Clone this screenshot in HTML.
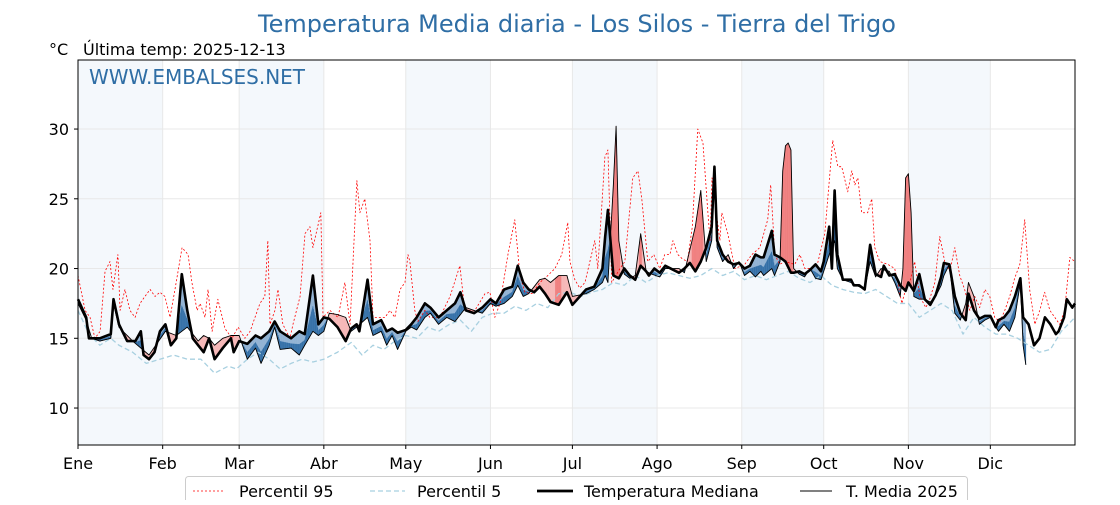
<!DOCTYPE html>
<html><head><meta charset="utf-8">
<style>
body{margin:0;background:#fff;font-family:"Liberation Sans","DejaVu Sans",sans-serif;}
svg text{font-family:"DejaVu Sans","Liberation Sans",sans-serif;}
</style></head>
<body>
<svg id="chart" width="1120" height="500" xmlns="http://www.w3.org/2000/svg">
<text x="577" y="32" text-anchor="middle" font-size="24" fill="#2f6ea5">Temperatura Media diaria - Los Silos - Tierra del Trigo</text>
<text x="49" y="55" font-size="16" fill="#000">°C</text>
<text x="83" y="55" font-size="16" fill="#000">Última temp: 2025-12-13</text>
<g id="bands"></g><g id="grid"></g><g id="fills"></g><g id="lines"></g>
<text x="89" y="84" font-size="20" fill="#2f6ea5">WWW.EMBALSES.NET</text>
<rect x="78" y="60" width="997" height="385" fill="none" stroke="#000" stroke-width="1"/>
<g id="axes"></g>
<g>
<rect x="185.5" y="476.5" width="782" height="30" rx="3" fill="#fff" stroke="#ccc"/>
<line x1="193" y1="491" x2="225" y2="491" stroke="red" stroke-width="0.8" stroke-dasharray="2,2"/>
<text x="239" y="497" font-size="16">Percentil 95</text>
<line x1="370" y1="491" x2="405" y2="491" stroke="#a8d0e0" stroke-width="1.2" stroke-dasharray="5,3"/>
<text x="417" y="497" font-size="16">Percentil 5</text>
<line x1="537" y1="491" x2="573" y2="491" stroke="#000" stroke-width="2.8"/>
<text x="584" y="497" font-size="16">Temperatura Mediana</text>
<line x1="800" y1="491" x2="832" y2="491" stroke="#000" stroke-width="1"/>
<text x="846" y="497" font-size="16">T. Media 2025</text>
</g>
</svg>
<script>
const months=["Ene","Feb","Mar","Abr","May","Jun","Jul","Ago","Sep","Oct","Nov","Dic"];
const monthStart=[0,31,59,90,120,151,181,212,243,273,304,334];
const yTicks=[10,15,20,25,30];
const medDays=[0,3,4,8,12,13,15,18,21,23,24,26,28,30,32,34,36,38,40,42,44,46,48,50,53,56,57,59,62,65,67,70,72,74,78,81,83,86,88,90,92,95,98,100,102,103,106,108,111,113,115,117,120,122,124,127,129,132,135,138,140,142,145,148,151,153,156,159,161,163,165,167,169,171,173,176,179,181,186,189,192,193,194,196,198,200,202,204,206,208,209,211,213,215,217,220,222,224,226,228,230,232,233,234,236,238,240,242,244,246,248,250,251,254,255,257,259,261,262,264,266,268,270,272,273,275,276,277,278,280,283,284,286,288,290,292,294,295,297,299,301,303,304,306,308,310,312,314,316,317,319,321,323,325,326,328,330,332,334,336,337,339,341,343,345,346,348,350,352,354,356,358,359,361,362,364,365];
const medVals=[17.8,16.5,15.0,15.0,15.3,17.8,16,14.8,14.8,15.5,13.8,13.5,14,15.5,16,14.5,15,19.6,17,15,14.5,14,15,13.5,14.3,15,14,14.8,14.6,15.2,15,15.5,16.2,15.5,15,15.5,15.3,19.5,16,16.5,16.4,15.8,14.8,15.7,16,15.5,19.2,16,16.3,15.5,15.7,15.4,15.6,16,16.5,17.5,17.2,16.5,17,17.5,18.3,17,16.8,17.2,17.8,17.5,18.5,18.7,20.2,19,18.5,18.3,18.7,18.2,17.6,17.4,18.3,17.4,18.5,18.7,20,22.3,24.2,19.5,19.3,20,19.5,19.2,20.2,19.8,19.5,20,19.7,20.2,20,19.7,20,20.4,19.8,20.5,21.5,23,27.3,22,21,20.5,20.3,20.4,20,20.2,21,20.8,20.8,22.7,21,20.8,20.5,19.7,19.7,19.8,19.6,19.9,20.3,19.8,20.5,23,20,25.6,21,19.2,19.2,18.8,18.8,18.5,21.7,19.6,19.4,20.2,19.5,19.6,18.8,18.4,19,18.4,19.6,17.8,17.4,18.1,19.4,20.4,20.3,18,16.8,16.3,18.2,17,16.4,16.6,16.6,15.8,16.3,16.5,17,18,19.3,16.5,16,14.5,15,16.5,16,15.3,15.5,16.5,17.8,17.2,17.5];
const t25Days=[0,3,5,8,12,13,15,20,26,32,36,38,40,44,46,48,50,53,56,59,62,65,67,70,72,74,78,81,83,86,88,90,92,95,98,100,102,106,108,111,113,115,117,120,122,124,127,129,132,135,138,142,145,148,151,153,156,159,161,163,165,167,169,171,173,176,179,181,186,189,192,193,194,196,197,198,200,202,204,206,208,210,213,215,217,220,222,226,228,230,232,233,234,236,238,240,242,244,246,248,250,251,254,255,257,258,259,260,261,262,264,266,268,270,272,273,275,277,278,280,283,286,288,290,292,294,295,297,299,301,302,303,304,305,306,308,310,312,314,316,317,319,321,323,325,326,328,330,332,334,336,337,339,341,343,345,346,347];
const t25Vals=[17.5,16.3,15.0,14.8,15.0,17.5,15.8,14.8,13.8,15.5,15.2,15.5,15.8,14.8,15.2,15.0,14.5,15.0,15.2,15.2,13.5,14.3,13.2,14.5,15.8,14.2,14.3,13.8,14.5,15.5,15.2,15.5,16.8,16.7,16.5,15.5,15.8,16.5,15.2,15.5,14.5,15.2,14.2,15.5,15.8,15.6,16.5,16.8,16.0,16.5,16.2,17.2,17.0,16.8,17.5,17.3,17.5,18.0,18.8,18.0,18.2,18.7,19.2,19.3,19.0,19.5,19.5,18.0,18.2,18.5,19.0,19.5,19.0,26.0,30.2,22.0,19.6,19.3,19.5,22.5,19.8,19.6,19.4,20.0,20.0,20.0,19.7,23.0,25.6,20.5,22.0,26.5,21.5,20.5,21,20.0,20.5,19.5,19.8,19.4,19.8,19.5,20.0,19.5,20.5,27.0,28.8,29.0,28.5,20.0,19.6,19.4,20.0,19.3,19.2,19.8,21.0,22.0,20.0,19.2,19.0,18.7,18.5,20.5,19.4,20.0,19.9,19.8,19.0,18.0,20.0,26.5,26.8,24.0,18.0,17.8,17.8,17.6,18.0,18.8,19.5,20.3,16.8,16.3,17.5,19.0,18.0,16.0,16.3,16.5,15.8,15.5,16.0,15.5,16.5,19.0,14.5,13.1];
const p95Days=[0,2.6,4.4,6.2,8.1,9.9,11.7,12.8,14.6,15.4,17.2,19,20.9,22.7,24.5,26.4,28.2,30,31.8,33.7,35.5,38.1,40.3,41.7,43.6,44.7,46.5,47.6,49.1,51.2,53.8,56.4,58.6,61.1,63,66.6,68.4,69.5,70.3,72.1,73.2,75,77.6,78.7,81.3,83.1,84.9,86,88.9,89.7,92.2,95.2,97.7,99.6,102.1,103.2,105,106.9,108,110.5,112.4,114.2,116,117.9,119.7,120.8,121.5,123.3,124.4,127,128.8,132.5,136.2,139.8,141.6,143.5,145.3,149,150.8,152.6,154.5,157.4,159.9,161.8,163.6,166.2,169.1,172,174.6,177.1,179.3,180.1,181.9,183.7,185.6,189.2,190.3,192.9,194,195.4,198.4,200.2,203.1,205,206.4,208.6,210.8,213,214.8,216.7,217.8,219.6,221.2,223.1,224.9,226.9,228.8,230.6,231.4,232.1,235,235.7,237.9,240.5,244.1,246.7,249.6,252.5,253.6,255.1,256.9,258.8,262.4,264.3,266.1,267.9,270.8,273.4,276.3,278.2,279.6,281.8,283.3,284.4,285.5,286.9,289.1,290.6,291.7,293.5,296.5,299,300.1,301.6,303,304.5,306.3,308.2,310.4,311.8,313.7,315.5,317.3,319.2,321,322.8,324.6,326.5,328.3,330.1,332,333.8,335.6,337.5,339.3,341.1,342.9,344.8,346.6,348.4,350.3,352.1,353.9,355.8,357.6,359.4,361.2,363.1,364.9];
const p95Vals=[19.5,17,16.5,15,15.5,19.8,20.5,18.5,21,17,18.5,17,16.5,17.5,18,18.5,18,18.3,18,16.5,18.5,21.5,21,19,17,17.5,16.5,18.5,15.5,17.8,15.7,15,15.8,15,15.5,17.5,18,22,16,17,18.5,16,15,16,18,22.5,23,21.5,24,16.5,17,16.5,19,16,26.3,24,25,22,16.5,16.5,16.5,17,16.5,18.5,19,21,20.5,17,16.2,17,16.5,16.5,18,20.2,17,17,17,18.2,18.3,16.5,17.5,21,23.5,19.5,18.3,18.2,19,19.5,20,21,23.3,20.5,19.2,18.6,19,22,20,28,28.5,19,20,20.5,26.5,27,25,20.5,21,20,21,21,22,21,20.7,20.5,23,30,29,24,22,26.5,22,24,22.5,20,20.3,21,21.5,23.5,26,21,20.3,20.5,20.3,21,20,20,20.4,22.5,29.2,27.3,27.3,25.5,27,26,26.5,24,24,25,21.5,20.5,20.3,20,19,17.5,18.5,19,20.5,18,17.2,17.8,19,22.3,20.5,19.8,21.5,19.5,18.5,17,18,17.2,18.5,18,16.5,16.2,17,18,19.3,20.3,23.5,18.5,16,17,18.3,17,16.5,16,17,20.8,20.5];
const p5Days=[0,4,8,12,15,20,25,30,35,40,45,50,55,58,62,66,70,74,78,82,86,90,95,100,104,108,112,116,120,124,128,132,136,140,144,148,152,156,160,164,168,172,176,180,184,188,192,196,200,204,208,212,216,220,224,228,232,236,240,244,248,252,256,260,264,268,272,276,280,284,288,292,296,300,304,308,312,316,320,324,328,332,336,340,344,348,352,356,360,365];
const p5Vals=[17,15.3,14.5,15,14.5,14,13.2,13.5,13.8,13.5,13.5,12.5,13,12.8,13.5,14,13.5,12.8,13.2,13.5,13.3,13.5,14,14.7,13.8,14.5,14.2,14.8,15.2,15,15.8,15.5,16,16.3,15.5,16.5,16.8,16.8,17.3,17,17.5,17.2,18.2,18.3,18,18.3,18.5,19,18.8,19.5,19,19.5,19.7,19.5,19.3,19.5,20,19.5,19.8,19.2,19.5,19.2,19.5,19.8,19.3,19,19.5,18.8,18.5,18.3,18.2,18.5,18,17.5,17.5,16.5,17,17.5,17,15.3,16.5,15.8,15.3,15.3,15,14.5,14,14.2,15.5,16.5];

const NS="http://www.w3.org/2000/svg";
const X0=78,X1=1075,Y0=60,Y1=445,YMIN=7.35,YMAX=34.95;
const xs=d=>X0+d*(X1-X0)/365;
const ys=v=>Y1-(v-YMIN)*(Y1-Y0)/(YMAX-YMIN);
function mk(parent,tag,attrs){const e=document.createElementNS(NS,tag);for(const k in attrs)e.setAttribute(k,attrs[k]);document.getElementById(parent).appendChild(e);return e;}
function interp(days,vals,d){if(d<=days[0])return vals[0];for(let i=1;i<days.length;i++){if(d<=days[i]){const t=(d-days[i-1])/(days[i]-days[i-1]);return vals[i-1]+t*(vals[i]-vals[i-1]);}}return vals[vals.length-1];}

for(let m=0;m<12;m+=2){const e=mk('bands','rect',{x:xs(monthStart[m]),y:Y0,width:xs(monthStart[m+1])-xs(monthStart[m]),height:Y1-Y0,fill:'#f4f8fc'});

}
yTicks.forEach(v=>{const g=mk('grid','line',{x1:X0,x2:X1,y1:ys(v),y2:ys(v),stroke:'#e8e8e8','stroke-width':1});


const t=mk('axes','text',{x:69,y:ys(v)+6,'text-anchor':'end','font-size':16});t.textContent=v;


mk('axes','line',{x1:X0-4,x2:X0,y1:ys(v),y2:ys(v),stroke:'#000'});});
months.forEach((m,i)=>{const x=xs(monthStart[i]);
const g=mk('grid','line',{x1:x,x2:x,y1:Y0,y2:Y1,stroke:'#e8e8e8','stroke-width':1});


mk('axes','line',{x1:x,x2:x,y1:Y1,y2:Y1+4,stroke:'#000'});
const t=mk('axes','text',{x:x,y:469,'text-anchor':'middle','font-size':16});t.textContent=m;

});
const lastDay=t25Days[t25Days.length-1];
for(let d=0;d<lastDay;d+=0.25){const d2=Math.min(d+0.25,lastDay);
const m1=interp(medDays,medVals,d),m2=interp(medDays,medVals,d2),a1=interp(t25Days,t25Vals,d),a2=interp(t25Days,t25Vals,d2);
const diff=(a1+a2-m1-m2)/2;let col,pts;
pts=[[d,m1],[d2,m2],[d2,a2],[d,a1]];
if(diff>=0){col=diff>1.8?'#f08080':'#f6b8b8';
const p=mk('fills','polygon',{points:pts.map(q=>xs(q[0])+','+ys(q[1])).join(' '),fill:col,stroke:col,'stroke-width':0.4});

}
else{
const p=mk('fills','polygon',{points:pts.map(q=>xs(q[0])+','+ys(q[1])).join(' '),fill:'#93b4d4',stroke:'#93b4d4','stroke-width':0.4});


const k1=a1+0.45*(m1-a1),k2=a2+0.45*(m2-a2);
const q=mk('fills','polygon',{points:[[d,k1],[d2,k2],[d2,a2],[d,a1]].map(q=>xs(q[0])+','+ys(q[1])).join(' '),fill:'#2b6aa3',stroke:'#2b6aa3','stroke-width':0.4});

}}
function line(days,vals,attrs,name){const e=mk('lines','polyline',Object.assign({points:days.map((d,i)=>xs(d)+','+ys(vals[i])).join(' '),fill:'none','stroke-linejoin':'round'},attrs));

}
line(p95Days,p95Vals,{stroke:'red','stroke-width':0.8,'stroke-dasharray':'2,2'},'p95-line');
line(p5Days,p5Vals,{stroke:'#a8d0e0','stroke-width':1.3,'stroke-dasharray':'5,3'},'p5-line');
line(medDays,medVals,{stroke:'#000','stroke-width':2.6},'median-line');
line(t25Days,t25Vals,{stroke:'#000','stroke-width':0.9},'t2025-line');
</script>
</body></html>
